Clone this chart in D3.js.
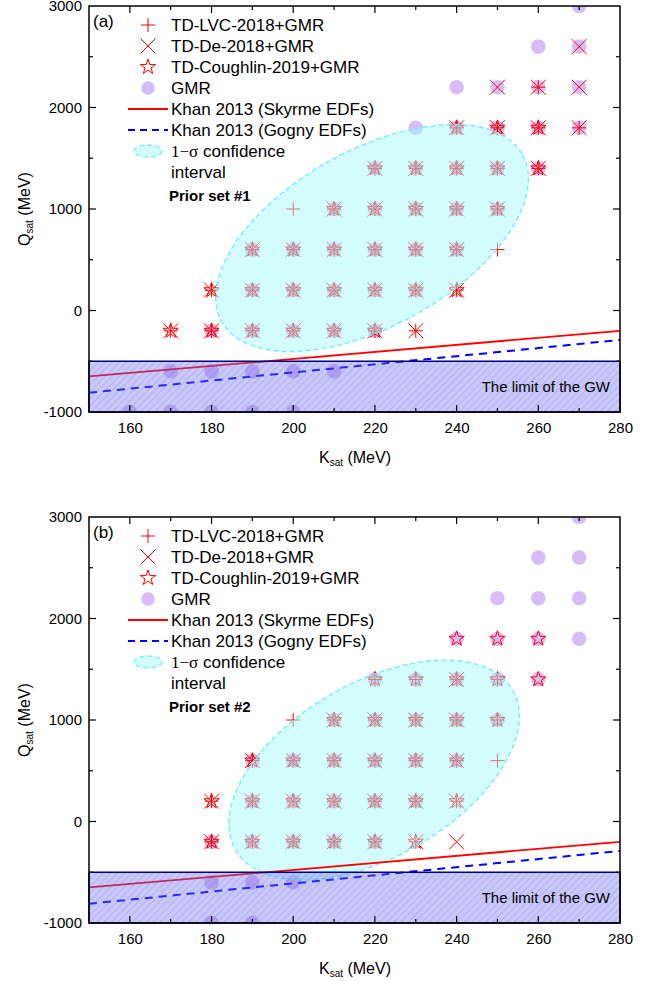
<!DOCTYPE html>
<html>
<head>
<meta charset="utf-8">
<script src="https://cdn.jsdelivr.net/npm/d3@7/dist/d3.min.js"></script>
<style>
  body { margin: 0; background: #fff; }
  text { font-family: "Liberation Sans", Arial, sans-serif; fill: #000; }
</style>
</head>
<body>
<div id="chart"></div>
<script>
// tick values
var kTicks = [160, 180, 200, 220, 240, 260, 280];
var qTicks = [-1000, 0, 1000, 2000, 3000];

// each row: [Qsat, [Ksat values]]
var gmrA = [
  [3000, [270]],
  [2600, [260, 270]],
  [2200, [240, 250, 260, 270]],
  [1800, [230, 240, 250, 260, 270]],
  [1400, [220, 230, 240, 250, 260]],
  [1000, [210, 220, 230, 240, 250]],
  [600, [190, 200, 210, 220, 230, 240]],
  [200, [190, 200, 210, 220, 230]],
  [-200, [180, 190, 200, 210, 220]],
  [-600, [170, 180, 190, 200, 210]],
  [-1000, [160, 170, 180, 190, 200]]
];
var lvcA = [
  [2200, [260]],
  [1800, [240, 250, 260, 270]],
  [1400, [220, 230, 240, 250, 260]],
  [1000, [200, 210, 220, 230, 240, 250]],
  [600, [190, 200, 210, 220, 230, 240, 250]],
  [200, [180, 190, 200, 210, 220, 230, 240]],
  [-200, [170, 180, 190, 200, 210, 220, 230]]
];
var deA = [
  [2600, [270]],
  [2200, [250, 260, 270]],
  [1800, [240, 250, 260, 270]],
  [1400, [220, 230, 240, 250, 260]],
  [1000, [210, 220, 230, 240, 250]],
  [600, [190, 200, 210, 220, 230, 240]],
  [200, [180, 190, 200, 210, 220, 230, 240]],
  [-200, [170, 180, 190, 200, 210, 220, 230]]
];
var coughA = [
  [1800, [240, 250, 260]],
  [1400, [220, 230, 240, 250, 260]],
  [1000, [210, 220, 230, 240, 250]],
  [600, [190, 200, 210, 220, 230, 240]],
  [200, [180, 190, 200, 210, 220, 230, 240]],
  [-200, [170, 180, 190, 200, 210, 220]]
];

var gmrB = [
  [3000, [270]],
  [2600, [260, 270]],
  [2200, [250, 260, 270]],
  [1800, [240, 250, 260, 270]],
  [1400, [220, 230, 240, 250, 260]],
  [1000, [210, 220, 230, 240, 250]],
  [600, [190, 200, 210, 220, 230, 240]],
  [200, [190, 200, 210, 220, 230]],
  [-200, [180, 190, 200, 210, 220]],
  [-600, [180, 190, 200]],
  [-1000, [180, 190]]
];
var lvcB = [
  [1400, [220, 230, 240, 250]],
  [1000, [200, 210, 220, 230, 240, 250]],
  [600, [190, 200, 210, 220, 230, 240, 250]],
  [200, [180, 190, 200, 210, 220, 230, 240]],
  [-200, [180, 190, 200, 210, 220, 230]]
];
var deB = [
  [1400, [240]],
  [1000, [210, 220, 230, 240]],
  [600, [190, 200, 210, 220, 230, 240]],
  [200, [180, 190, 200, 210, 220, 230, 240]],
  [-200, [180, 190, 200, 210, 220, 230, 240]]
];
var coughB = [
  [1800, [240, 250, 260]],
  [1400, [220, 230, 240, 250, 260]],
  [1000, [210, 220, 230, 240, 250]],
  [600, [190, 200, 210, 220, 230, 240]],
  [200, [180, 190, 200, 210, 220, 230, 240]],
  [-200, [180, 190, 200, 210, 220, 230]]
];

// Khan 2013 correlations (Ksat, Qsat end points)
var khanSkyrme = [[150, -650], [280, -200]];
var khanGogny = [[150, -810], [280, -290]];
var gwLimit = -500;

var legendLabels = ["TD-LVC-2018+GMR", "TD-De-2018+GMR", "TD-Coughlin-2019+GMR", "GMR",
  "Khan 2013 (Skyrme EDFs)", "Khan 2013 (Gogny EDFs)"];

var svgWidth = 657;
var svgHeight = 981;

var svg = d3.select("#chart").append("svg")
  .attr("width", svgWidth)
  .attr("height", svgHeight);

var defs = svg.append("defs");
var hatch = defs.append("pattern")
  .attr("id", "hatch")
  .attr("patternUnits", "userSpaceOnUse")
  .attr("width", 5).attr("height", 5)
  .attr("patternTransform", "rotate(45)");
hatch.append("rect").attr("width", 5).attr("height", 5).attr("fill", "rgb(105,105,240)").attr("fill-opacity", 0.36);
hatch.append("line").attr("x1", 0).attr("y1", 0).attr("x2", 0).attr("y2", 5)
  .attr("stroke", "rgb(80,80,210)").attr("stroke-opacity", 0.35).attr("stroke-width", 1.2);

var flat = rows => rows.flatMap(r => r[1].map(k => ({ k: k, q: r[0] })));

var plusPath = "M-7,0H7M0,-7V7";
var crossPath = "M-7.5,-7.5L7.5,7.5M-7.5,7.5L7.5,-7.5";
var starPath = d3.symbol().type(d3.symbolStar).size(72)();

function drawPanel(opt) {
  var x = d3.scaleLinear().domain([150, 280]).range([89, 620]);
  var y = d3.scaleLinear().domain([-1000, 3000]).range([opt.bottom, opt.top]);
  var g = svg.append("g");

  defs.append("clipPath").attr("id", "clip" + opt.id)
    .append("rect").attr("x", 89).attr("y", opt.top).attr("width", 531).attr("height", opt.bottom - opt.top);
  var plot = g.append("g").attr("clip-path", "url(#clip" + opt.id + ")");

  // GMR circles
  plot.append("g").selectAll("circle")
    .data(flat(opt.gmr)).enter().append("circle")
    .attr("cx", d => x(d.k)).attr("cy", d => y(d.q)).attr("r", 7.3)
    .attr("fill", "#b07cf2").attr("fill-opacity", 0.5);

  function markers(rows, path) {
    plot.append("g").selectAll("path")
      .data(flat(rows)).enter().append("path")
      .attr("d", path)
      .attr("transform", d => `translate(${x(d.k)},${y(d.q)})`)
      .attr("fill", "none").attr("stroke", "#ff0000").attr("stroke-width", 1);
  }
  markers(opt.lvc, plusPath);
  markers(opt.de, crossPath);
  markers(opt.cough, starPath);

  // 1-sigma ellipse
  var e = opt.ellipse;
  plot.append("ellipse")
    .attr("cx", 0).attr("cy", 0).attr("rx", e.a).attr("ry", e.b)
    .attr("transform", `translate(${x(e.k)},${y(e.q)}) rotate(${e.angle})`)
    .attr("fill", "rgb(168,250,250)").attr("fill-opacity", 0.5)
    .attr("stroke", "rgb(120,236,245)").attr("stroke-width", 1.4)
    .attr("stroke-dasharray", "5,3");

  // Khan lines
  var line = d3.line().x(d => x(d[0])).y(d => y(d[1]));
  plot.append("path").attr("d", line(khanSkyrme))
    .attr("fill", "none").attr("stroke", "#ff0000").attr("stroke-width", 1.8);
  plot.append("path").attr("d", line(khanGogny))
    .attr("fill", "none").attr("stroke", "#0000ff").attr("stroke-width", 2)
    .attr("stroke-dasharray", "8,6");

  // GW limit region
  g.append("rect")
    .attr("x", x(150)).attr("y", y(gwLimit))
    .attr("width", x(280) - x(150)).attr("height", y(-1000) - y(gwLimit))
    .attr("fill", "url(#hatch)").attr("stroke", "#000080").attr("stroke-width", 1.5);
  g.append("text")
    .attr("x", 610).attr("y", y(-750) + 5)
    .attr("text-anchor", "end").style("font-size", "15px")
    .text("The limit of the GW");

  // axes
  var major = 7, minor = 4;
  g.append("g").attr("transform", `translate(0,${opt.bottom})`)
    .call(d3.axisBottom(x).tickValues(kTicks).tickFormat(d => String(d)).tickSize(0).tickPadding(10))
    .call(a => a.select(".domain").remove())
    .selectAll("text").style("font-size", "15px").style("font-family", "Liberation Sans, Arial");
  g.append("g").attr("transform", "translate(89,0)")
    .call(d3.axisLeft(y).tickValues(qTicks).tickFormat(d => String(d)).tickSize(0).tickPadding(7))
    .call(a => a.select(".domain").remove())
    .selectAll("text").style("font-size", "15px").style("font-family", "Liberation Sans, Arial");

  var ticks = g.append("g").attr("stroke", "#000").attr("stroke-width", 1.2);
  d3.range(160, 280, 10).forEach(function (k) {
    var len = (k % 20 === 0) ? major : minor;
    ticks.append("line").attr("x1", x(k)).attr("x2", x(k)).attr("y1", opt.bottom).attr("y2", opt.bottom - len);
    ticks.append("line").attr("x1", x(k)).attr("x2", x(k)).attr("y1", opt.top).attr("y2", opt.top + len);
  });
  d3.range(-500, 3000, 500).forEach(function (q) {
    var len = (q % 1000 === 0) ? major : minor;
    ticks.append("line").attr("x1", 89).attr("x2", 89 + len).attr("y1", y(q)).attr("y2", y(q));
    ticks.append("line").attr("x1", 620).attr("x2", 620 - len).attr("y1", y(q)).attr("y2", y(q));
  });
  g.append("rect").attr("x", 89).attr("y", opt.top).attr("width", 531).attr("height", opt.bottom - opt.top)
    .attr("fill", "none").attr("stroke", "#000").attr("stroke-width", 1.5);

  // axis titles
  var xt = g.append("text").attr("x", 355).attr("y", opt.bottom + 51)
    .attr("text-anchor", "middle").style("font-size", "16px");
  xt.append("tspan").text("K");
  xt.append("tspan").attr("dy", 3).style("font-size", "10px").text("sat");
  xt.append("tspan").attr("dy", -3).text(" (MeV)");

  var yt = g.append("text")
    .attr("transform", `translate(30,${(opt.top + opt.bottom) / 2}) rotate(-90)`)
    .attr("text-anchor", "middle").style("font-size", "16px");
  yt.append("tspan").text("Q");
  yt.append("tspan").attr("dy", 3).style("font-size", "10px").text("sat");
  yt.append("tspan").attr("dy", -3).text(" (MeV)");

  // panel tag
  g.append("text").attr("x", 93).attr("y", opt.top + 21).style("font-size", "17px").text(opt.tag);

  // legend
  var rows = [19, 40, 61, 82, 103, 124, 145, 166, 190].map(v => opt.top + v);
  var lx = 148, tx = 171;
  var leg = g.append("g");
  leg.append("path").attr("d", plusPath).attr("transform", `translate(${lx},${rows[0]})`)
    .attr("fill", "none").attr("stroke", "#ff0000").attr("stroke-width", 1);
  leg.append("path").attr("d", crossPath).attr("transform", `translate(${lx},${rows[1]})`)
    .attr("fill", "none").attr("stroke", "#ff0000").attr("stroke-width", 1);
  leg.append("path").attr("d", starPath).attr("transform", `translate(${lx},${rows[2]})`)
    .attr("fill", "none").attr("stroke", "#ff0000").attr("stroke-width", 1);
  leg.append("circle").attr("cx", lx).attr("cy", rows[3]).attr("r", 6.8)
    .attr("fill", "#b07cf2").attr("fill-opacity", 0.5);
  leg.append("line").attr("x1", 128).attr("x2", 168).attr("y1", rows[4]).attr("y2", rows[4])
    .attr("stroke", "#ff0000").attr("stroke-width", 1.8);
  leg.append("line").attr("x1", 128).attr("x2", 168).attr("y1", rows[5]).attr("y2", rows[5])
    .attr("stroke", "#0000ff").attr("stroke-width", 2).attr("stroke-dasharray", "7,5");
  leg.append("ellipse").attr("cx", lx).attr("cy", rows[6]).attr("rx", 14).attr("ry", 6)
    .attr("fill", "rgb(168,250,250)").attr("fill-opacity", 0.5)
    .attr("stroke", "rgb(120,236,245)").attr("stroke-width", 1.4).attr("stroke-dasharray", "5,3");

  legendLabels.forEach(function (t, i) {
    leg.append("text").attr("x", tx).attr("y", rows[i] + 6).style("font-size", "17px").text(t);
  });
  var sig = leg.append("text").attr("x", tx).attr("y", rows[6] + 6).style("font-size", "17px");
  sig.append("tspan").style("font-family", "Liberation Serif, Times New Roman, serif").text("1\u2212\u03c3");
  sig.append("tspan").text(" confidence");
  leg.append("text").attr("x", tx).attr("y", rows[7] + 6).style("font-size", "17px").text("interval");
  leg.append("text").attr("x", tx - 2).attr("y", rows[8] + 5).style("font-size", "15px")
    .style("font-weight", "bold").text(opt.prior);
}

drawPanel({
  id: "a", top: 6, bottom: 412, tag: "(a)", prior: "Prior set #1",
  gmr: gmrA, lvc: lvcA, de: deA, cough: coughA,
  ellipse: { k: 219.3, q: 714, a: 172, b: 88, angle: -29 }
});
drawPanel({
  id: "b", top: 517, bottom: 923, tag: "(b)", prior: "Prior set #2",
  gmr: gmrB, lvc: lvcB, de: deB, cough: coughB,
  ellipse: { k: 219.8, q: 507, a: 160, b: 87, angle: -30 }
});
</script>
</body>
</html>
